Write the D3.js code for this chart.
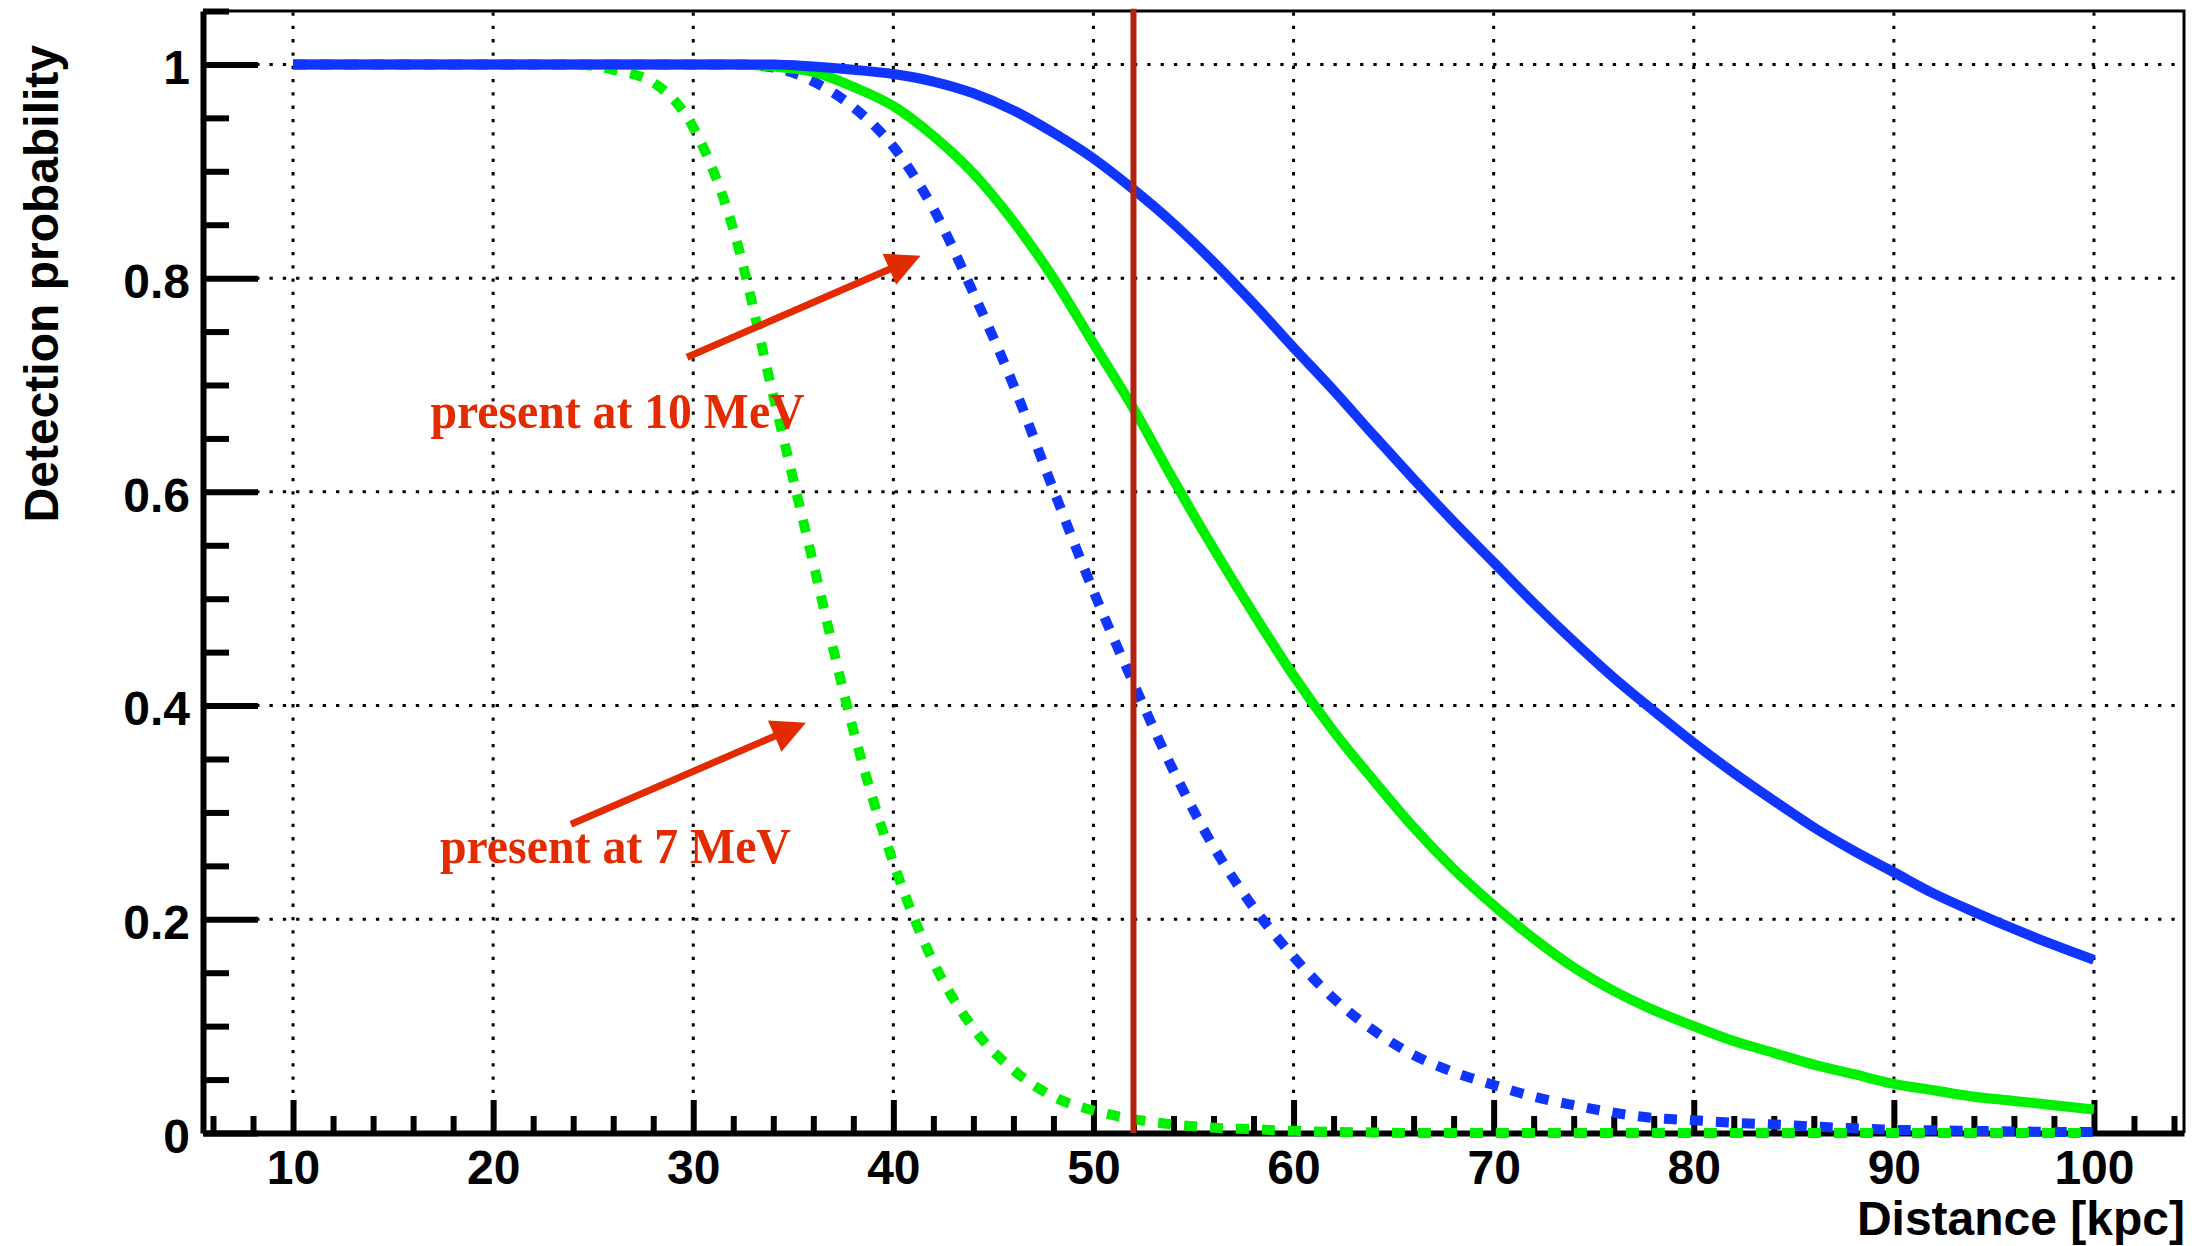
<!DOCTYPE html>
<html><head><meta charset="utf-8">
<script src="https://cdn.jsdelivr.net/npm/d3@7"></script>
<style>html,body{margin:0;padding:0;background:#fff;} svg{display:block;background:#fff}</style>
</head><body>
<svg id="chart" width="2194" height="1246"></svg>
<script>
// ---------------- data ----------------
const distance = [10,12,14,16,18,20,22,24,26,28,30,32,34,36,38,40,42,44,46,48,50,52,54,56,58,60,62,64,66,68,70,72,74,76,78,80,82,84,86,88,90,92,94,96,98,100];
const blueSolid = [1,1,1,1,1,1,1,1,1,1,1,1,1,
  0.998,0.995,0.991,0.984,0.973,0.957,0.936,0.912,0.883,0.851,0.815,0.776,0.735,0.695,0.653,0.612,0.572,0.534,0.496,0.460,0.426,0.395,0.365,0.337,0.311,0.286,0.264,0.244,0.224,0.207,0.191,0.176,0.162];
const greenSolid = [1,1,1,1,1,1,1,1,1,1,1,1,
  0.998,0.993,0.979,0.961,0.933,0.898,0.853,0.800,0.739,0.678,0.611,0.547,0.486,0.428,0.376,0.330,0.286,0.247,0.213,0.182,0.155,0.133,0.115,0.100,0.086,0.075,0.064,0.055,0.046,0.040,0.034,0.030,0.026,0.022];
const blueDotted = [1,1,1,1,1,1,1,1,1,1,1,1,
  0.997,0.984,0.960,0.923,0.865,0.786,0.700,0.602,0.507,0.421,0.339,0.268,0.211,0.165,0.126,0.096,0.073,0.057,0.045,0.034,0.026,0.019,0.014,0.012,0.0095,0.008,0.006,0.0045,0.003,0.0025,0.002,0.0015,0.001,0.001];
const greenDotted = [1,1,1,1,1,1,1,1,
  0.995,0.983,0.941,0.846,0.690,0.533,0.377,0.253,0.160,0.098,0.059,0.034,0.021,0.013,0.008,0.005,0.0035,0.002,0.001,0.0005,
  0,0,0,0,0,0,0,0,0,0,0,0,0,0,0,0,0,0];
const xTicks = [10,20,30,40,50,60,70,80,90,100];
const xTickLabels = ["10","20","30","40","50","60","70","80","90","100"];
const yTicks = [0,0.2,0.4,0.6,0.8,1];
const yTickLabels = ["0","0.2","0.4","0.6","0.8","1"];
const xTitle = "Distance [kpc]";
const yTitle = "Detection probability";
const cutDistance = 52;
const notes = [
  {text:"present at 10 MeV", x:16.87, y:0.6595, len:374},
  {text:"present at 7 MeV", x:17.34, y:0.2526, len:351}
];
const arrowsData = [
  {x1:29.69, y1:0.726, x2:41.36, y2:0.821},
  {x1:23.89, y1:0.289, x2:35.63, y2:0.384}
];

// ---------------- drawing ----------------
const svg = d3.select("#chart");
const x = d3.scaleLinear().domain([5.5,104.5]).range([203,2184]);
const y = d3.scaleLinear().domain([0,1.05]).range([1133,11]);
const SANS = "'Liberation Sans', Arial, Helvetica, sans-serif";
const SERIF = "'Liberation Serif', 'Times New Roman', Times, serif";
const BLUE = "#0f35ff", GREEN = "#00f000", RED = "#e22b00", DARKRED = "#b3230f";

// grid
const grid = svg.append("g").attr("stroke","#000").attr("stroke-width",3).attr("stroke-dasharray","3.3,10").attr("fill","none");
grid.selectAll("line.gv").data(xTicks).join("line").attr("class","gv")
  .attr("x1",d=>x(d)).attr("x2",d=>x(d)).attr("y1",y(0)).attr("y2",y(1.05));
grid.selectAll("line.gh").data(yTicks.filter(d=>d>0)).join("line").attr("class","gh")
  .attr("x1",x(5.5)).attr("x2",x(104.5)).attr("y1",d=>y(d)).attr("y2",d=>y(d));

// frame (top and right)
svg.append("path").attr("d",`M${x(5.5)},${y(1.05)}H${x(104.5)}V${y(0)}`)
  .attr("fill","none").attr("stroke","#000").attr("stroke-width",3);

// minor tick positions
const yMinor = d3.range(0,1.0501,0.05).filter(v=>Math.abs(v*5-Math.round(v*5))>1e-6);
const xMinor = d3.range(6,105,2).filter(v=>v%10!==0);

// axes
const yAxis = svg.append("g").attr("transform",`translate(${x(5.5)},0)`)
  .call(d3.axisLeft(y).tickValues(yTicks).tickFormat((d,i)=>yTickLabels[i]).tickSize(-55).tickSizeOuter(0).tickPadding(13));
svg.append("g").attr("transform",`translate(${x(5.5)},0)`)
  .call(d3.axisLeft(y).tickValues(yMinor).tickFormat("").tickSize(-26).tickSizeOuter(0))
  .call(g=>g.select(".domain").remove());
const xAxis = svg.append("g").attr("transform",`translate(0,${y(0)})`)
  .call(d3.axisBottom(x).tickValues(xTicks).tickFormat((d,i)=>xTickLabels[i]).tickSize(-33).tickSizeOuter(0).tickPadding(17));
svg.append("g").attr("transform",`translate(0,${y(0)})`)
  .call(d3.axisBottom(x).tickValues(xMinor).tickFormat("").tickSize(-17).tickSizeOuter(0))
  .call(g=>g.select(".domain").remove());
svg.selectAll(".domain").attr("stroke","#000").attr("stroke-width",6);
svg.selectAll(".tick line").attr("stroke","#000").attr("stroke-width",6);
svg.selectAll(".tick text").attr("font-family",SANS).attr("font-weight","bold").attr("font-size",48).attr("fill","#000");
yAxis.selectAll(".tick text").attr("dy","0.4em");

// titles
svg.append("text").attr("x",2185).attr("y",1235).attr("text-anchor","end")
  .attr("font-family",SANS).attr("font-weight","bold").attr("font-size",48).text(xTitle);
svg.append("text").attr("transform","translate(58,45) rotate(-90)").attr("text-anchor","end")
  .attr("font-family",SANS).attr("font-weight","bold").attr("font-size",48).text(yTitle);

// curves
const line = d3.line().x((d,i)=>x(distance[i])).y(d=>y(d)).curve(d3.curveMonotoneX);
const series = [
  {v:blueDotted, c:BLUE, dash:"13,13", w:10},
  {v:greenDotted, c:GREEN, dash:"13,13", w:10},
  {v:greenSolid, c:GREEN, dash:null, w:10},
  {v:blueSolid, c:BLUE, dash:null, w:10}
];
svg.append("g").selectAll("path").data(series).join("path")
  .attr("d",d=>line(d.v)).attr("fill","none").attr("stroke",d=>d.c)
  .attr("stroke-width",d=>d.w).attr("stroke-dasharray",d=>d.dash).attr("stroke-linejoin","round");

// vertical red line
svg.append("line").attr("x1",x(cutDistance)).attr("x2",x(cutDistance))
  .attr("y1",y(0)).attr("y2",y(1.052)).attr("stroke",DARKRED).attr("stroke-width",6);

// arrows
const ag = svg.append("g");
arrowsData.forEach(a=>{
  const X1=x(a.x1),Y1=y(a.y1),X2=x(a.x2),Y2=y(a.y2);
  const dx=X2-X1, dy=Y2-Y1, L=Math.hypot(dx,dy), ux=dx/L, uy=dy/L;
  const hl=34, hw=17;
  const bx=X2-ux*hl, by=Y2-uy*hl;
  ag.append("line").attr("x1",X1).attr("y1",Y1).attr("x2",bx+ux*2).attr("y2",by+uy*2)
    .attr("stroke",RED).attr("stroke-width",7);
  ag.append("path").attr("d",`M${X2},${Y2}L${bx-uy*hw},${by+ux*hw}L${bx+uy*hw},${by-ux*hw}Z`).attr("fill",RED);
});

// annotation texts
svg.append("g").selectAll("text").data(notes).join("text")
  .attr("x",d=>x(d.x)).attr("y",d=>y(d.y)).attr("font-family",SERIF).attr("font-weight","bold")
  .attr("font-size",51).attr("fill",RED).attr("textLength",d=>d.len).attr("lengthAdjust","spacingAndGlyphs")
  .text(d=>d.text);
</script>
</body></html>
